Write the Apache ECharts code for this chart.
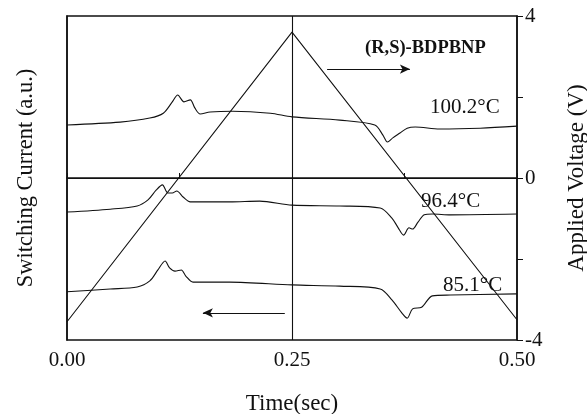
<!DOCTYPE html>
<html>
<head>
<meta charset="utf-8">
<script src="https://cdn.jsdelivr.net/npm/echarts@6/dist/echarts.min.js"></script>
<style>
  html, body { margin: 0; padding: 0; background: #fff; }
  #chart { width: 587px; height: 414px; }
</style>
</head>
<body>
<div id="chart"></div>
<script>
"use strict";
// applied voltage (triangle wave), right axis
const voltageTime = [0, 0.25, 0.5];
const voltage = [-3.55, 3.6, -3.5];

// switching current traces (a.u.), [time, value]
const trace100 = [
  [0, 1.31], [0.059, 1.38], [0.092, 1.48], [0.107, 1.6], [0.117, 1.88], [0.123, 2.05],
  [0.13, 1.88], [0.137, 1.93], [0.142, 1.73], [0.148, 1.58], [0.159, 1.63], [0.184, 1.65],
  [0.226, 1.6], [0.25, 1.51], [0.303, 1.43], [0.342, 1.31], [0.351, 1.06], [0.356, 0.89],
  [0.362, 0.99], [0.37, 1.11], [0.378, 1.23], [0.387, 1.26], [0.414, 1.21], [0.459, 1.23],
  [0.5, 1.28]
];
const trace96 = [
  [0, -0.84], [0.048, -0.77], [0.078, -0.69], [0.09, -0.54], [0.099, -0.3], [0.106, -0.17],
  [0.112, -0.37], [0.117, -0.37], [0.122, -0.32], [0.129, -0.47], [0.137, -0.59], [0.181, -0.59],
  [0.214, -0.57], [0.25, -0.67], [0.303, -0.69], [0.348, -0.74], [0.361, -0.99], [0.368, -1.23],
  [0.374, -1.41], [0.38, -1.23], [0.384, -1.26], [0.39, -1.09], [0.397, -0.91], [0.406, -0.89],
  [0.426, -0.91], [0.5, -0.89]
];
const trace85 = [
  [0, -2.81], [0.048, -2.74], [0.078, -2.69], [0.092, -2.54], [0.101, -2.27], [0.109, -2.05],
  [0.114, -2.22], [0.12, -2.3], [0.127, -2.27], [0.132, -2.42], [0.14, -2.57], [0.181, -2.57],
  [0.25, -2.64], [0.303, -2.67], [0.348, -2.74], [0.361, -3.01], [0.372, -3.33], [0.378, -3.46],
  [0.384, -3.23], [0.394, -3.19], [0.406, -2.91], [0.426, -2.89], [0.5, -2.86]
];

const voltageLabels = [4, 0, -4];
const sweepArrowRight = [[0.289, 2.69], [0.381, 2.69]];
const sweepArrowLeft = [[0.242, -3.33], [0.151, -3.33]];

const font = "Liberation Serif";
const ink = "#111";

const traceSeries = (data) => ({
  type: "line",
  yAxisIndex: 0,
  data: data,
  showSymbol: false,
  smooth: 0.3,
  lineStyle: { color: ink, width: 1.1 },
  silent: true,
});

const myChart = echarts.init(document.getElementById("chart"));
myChart.setOption({
  backgroundColor: "#fff",
  animation: false,
  grid: {
    left: 67, right: 70, top: 16, bottom: 74,
    outerBoundsMode: "none", containLabel: false,
    show: true, borderColor: ink, borderWidth: 1.5,
  },
  xAxis: {
    type: "value",
    min: 0,
    max: 0.5,
    interval: 0.125,
    name: "Time(sec)",
    nameLocation: "middle",
    nameGap: 52,
    nameMoveOverlap: false,
    nameTextStyle: { fontFamily: font, fontSize: 23, color: ink },
    axisLine: { lineStyle: { color: ink, width: 1.5 } },
    axisTick: { inside: true, length: 5, lineStyle: { color: ink } },
    axisLabel: {
      margin: 10,
      fontFamily: font,
      fontSize: 21,
      color: ink,
      formatter: (v) => (Math.abs(v / 0.25 - Math.round(v / 0.25)) < 1e-6 ? v.toFixed(2) : ""),
    },
    splitLine: { show: false },
  },
  yAxis: [
    {
      type: "value",
      position: "left",
      min: -4,
      max: 4,
      name: "Switching Current (a.u.)",
      nameLocation: "middle",
      nameRotate: 90,
      nameGap: 29,
      nameMoveOverlap: false,
      nameTextStyle: { fontFamily: font, fontSize: 22.5, color: ink },
      axisLine: { show: true, lineStyle: { color: ink, width: 1.5 } },
      axisTick: { show: false },
      axisLabel: { show: false },
      splitLine: { show: false },
    },
    {
      type: "value",
      position: "right",
      min: -4,
      max: 4,
      interval: 2,
      name: "Applied Voltage (V)",
      nameLocation: "middle",
      nameRotate: 90,
      nameGap: 48,
      nameMoveOverlap: false,
      nameTextStyle: { fontFamily: font, fontSize: 23, color: ink },
      axisLine: { show: true, lineStyle: { color: ink, width: 1.5 } },
      axisTick: { show: true, inside: false, length: 6, lineStyle: { color: ink } },
      axisLabel: {
        margin: 8,
        fontFamily: font,
        fontSize: 21,
        color: ink,
        formatter: (v) => (voltageLabels.includes(v) ? String(v) : ""),
      },
      splitLine: { show: false },
    },
  ],
  series: [
    {
      type: "line",
      yAxisIndex: 1,
      data: voltageTime.map((t, i) => [t, voltage[i]]),
      showSymbol: false,
      lineStyle: { color: ink, width: 1.1 },
      silent: true,
      markLine: {
        silent: true,
        symbol: ["none", "none"],
        label: { show: false },
        lineStyle: { color: ink, width: 1.1, type: "solid" },
        data: [
          { xAxis: 0.25 },
          { yAxis: 0 },
          [
            { coord: sweepArrowRight[0], symbol: "none" },
            { coord: sweepArrowRight[1], symbol: "arrow", symbolSize: [7, 10] },
          ],
          [
            { coord: sweepArrowLeft[0], symbol: "none" },
            { coord: sweepArrowLeft[1], symbol: "arrow", symbolSize: [7, 10] },
          ],
        ],
      },
    },
    traceSeries(trace100),
    traceSeries(trace96),
    traceSeries(trace85),
  ],
  graphic: [
    { type: "text", left: 365, top: 39, style: { text: "(R,S)-BDPBNP", font: "bold 18.5px " + font, fill: ink } },
    { type: "text", left: 430, top: 97, style: { text: "100.2°C", font: "21px " + font, fill: ink } },
    { type: "text", left: 421, top: 191, style: { text: "96.4°C", font: "21px " + font, fill: ink } },
    { type: "text", left: 443, top: 275, style: { text: "85.1°C", font: "21px " + font, fill: ink } },
  ],
});
</script>
</body>
</html>
